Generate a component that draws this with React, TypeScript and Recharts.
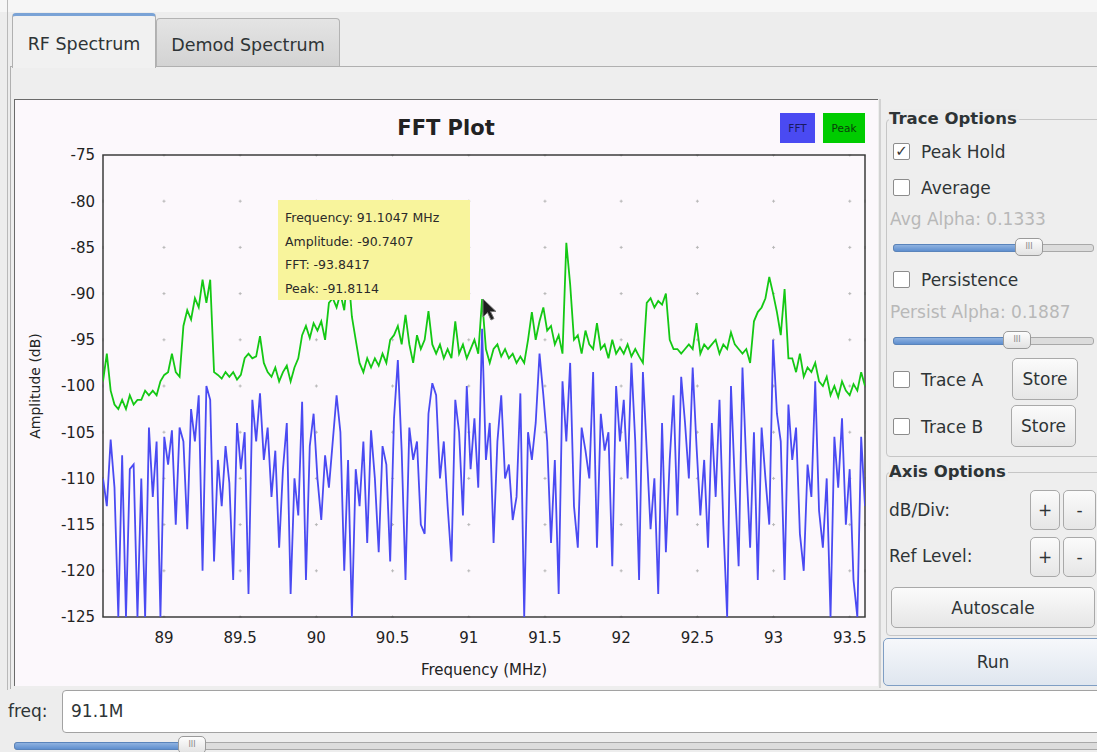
import { LineChart, Line, XAxis, YAxis, CartesianGrid, Tooltip, Legend, ReferenceArea } from 'recharts';

// receiver settings: 91.1 MHz centre, 5 MHz span
const START_MHZ = 88.6;
const SPAN_MHZ = 5.0;

// FFT trace (dB), one value per display bin
const fftDb = [
  -110, -113, -105.8, -111, -125, -107.5, -125, -109, -108.5, -125,
  -110, -125, -104.5, -112, -106, -125, -105.5, -108.5, -104.8, -115,
  -104.5, -106, -115.5, -102.5, -106, -101, -120, -100, -101.5, -119,
  -108, -113, -106.5, -110.5, -121, -104, -109, -105, -122.5, -101.5,
  -106, -100.8, -108, -104.5, -112, -107, -117.5, -109, -104, -122.5,
  -110, -114, -101.7, -121, -106.5, -103, -110, -114.5, -107.5, -111,
  -106, -101, -105, -120, -108, -125, -109, -113, -106, -117,
  -104.8, -110, -118, -106.5, -108.5, -119, -103.5, -97.2, -107, -121,
  -104.5, -108, -106, -115, -116, -103, -99.7, -101, -110, -106,
  -113, -119, -101.5, -105, -114, -100, -109, -103.5, -111, -93.8,
  -108, -104, -117, -106, -101, -110, -108.5, -114.5, -112, -100.8,
  -125, -105, -108, -104, -96.5, -101, -106, -117, -108, -122.5,
  -99.5, -106, -97.5, -113, -117.5, -104.5, -107, -110, -98.5, -117.5,
  -103, -107, -105, -119.5, -100, -106, -101.5, -110, -97.5, -106,
  -121, -98.5, -107, -115.5, -110, -122.5, -104, -118, -108, -101,
  -114, -99, -104, -110, -98, -106.5, -114, -108, -117.5, -104,
  -112, -101.5, -115, -125, -100, -110.5, -119.5, -98, -108.5, -117.5,
  -105, -121, -104.5, -110, -115, -95, -103, -106, -121, -102,
  -108, -104.5, -116, -120, -108.5, -112, -99.5, -113.5, -117.5, -110,
  -125, -105.5, -111, -103.5, -115, -109, -121, -125, -105.5, -113,
];

// peak hold trace (dB)
const peakDb = [
  -99.5, -96.5, -100.5, -102, -102.5, -101.5, -102.5, -101, -102, -101.5,
  -101.5, -100.5, -101, -100.5, -101, -99.5, -98.8, -98.5, -96.5, -98.5,
  -99, -93.5, -91.8, -92.8, -90.5, -91.5, -88.5, -91, -88.5, -98.5,
  -98.8, -99.2, -98.5, -99, -98.5, -99.3, -98.8, -97, -96.5, -97,
  -96.8, -94.6, -97.5, -98.5, -99, -98, -99.5, -98.5, -97.8, -99.5,
  -98, -97, -94.5, -93.5, -94.8, -93.2, -94, -93, -95, -91,
  -90.5, -91.5, -90, -91.8, -87.5, -92.5, -95, -97.5, -98.5, -97,
  -98, -97, -97.8, -96.5, -97.5, -95, -94.5, -93.5, -95.5, -92.3,
  -95.5, -97.5, -94.5, -96, -95, -91.9, -95.5, -96.5, -95.5, -97,
  -96, -97, -93, -96.5, -95.5, -97, -96, -95, -96.5, -90.6,
  -96, -97.5, -96, -95.5, -96.8, -96, -97, -96.5, -97.5, -96.8,
  -97.5, -95, -92, -95, -93, -91.5, -94, -93.5, -95.5, -94.5,
  -96.5, -84.5, -89, -95, -94.5, -96.5, -94, -95.5, -96, -93.2,
  -96, -95.5, -97, -95, -96.5, -95.8, -96.5, -95.5, -96.8, -96,
  -96.8, -97.5, -91, -90.5, -91.5, -90.8, -91.2, -90, -95, -96,
  -96, -96.5, -96, -95.5, -96, -93.2, -96.5, -95.5, -96, -95.5,
  -95, -96.5, -95.5, -96, -94.2, -95.5, -96, -96.5, -96, -97.5,
  -93, -92, -91.5, -90.5, -88.2, -90, -92, -94.5, -89.5, -97,
  -97, -98.5, -96.5, -99, -98, -98.5, -97.5, -99.5, -100, -99,
  -101, -100, -101.2, -99.5, -100.5, -101, -99.8, -100.5, -98.5, -100,
];

const xTicks = [89, 89.5, 90, 90.5, 91, 91.5, 92, 92.5, 93, 93.5];
const yTicks = [-125, -120, -115, -110, -105, -100, -95, -90, -85, -80, -75];

const readoutLines = ['Frequency: 91.1047 MHz', 'Amplitude: -90.7407', 'FFT: -93.8417', 'Peak: -91.8114'];
const READOUT_BIN = 99;

const data = fftDb.map((fft, i) => ({
  freq: START_MHZ + (i * SPAN_MHZ) / (fftDb.length - 1),
  fft,
  peak: peakDb[i],
}));

const FONT = '"DejaVu Sans", "Noto Sans", sans-serif';
const TEXT = '#2e3436';
const FFT_BLUE = '#4a4af2';
const PEAK_GREEN = '#14c814';

const Readout = () => (
  <div style={{ width: 192, height: 100, background: '#f8f49c', padding: '6px 0 0 7px', boxSizing: 'border-box', fontFamily: FONT, fontSize: 12.5, color: '#2a2a2a', lineHeight: '23.5px' }}>
    {readoutLines.map((l) => <div key={l}>{l}</div>)}
  </div>
);

const LegendBoxes = () => (
  <div style={{ display: 'flex', gap: 8, fontFamily: FONT, fontSize: 10.5 }}>
    <div style={{ width: 35, height: 30, background: FFT_BLUE, color: '#1a1a60', display: 'flex', alignItems: 'center', justifyContent: 'center' }}>FFT</div>
    <div style={{ width: 42, height: 30, background: '#00cc00', color: '#0a400a', display: 'flex', alignItems: 'center', justifyContent: 'center' }}>Peak</div>
  </div>
);

const YTitle = ({ viewBox }: any) => {
  const cx = viewBox.x + 12;
  const cy = viewBox.y + viewBox.height / 2;
  return (
    <text x={cx} y={cy} transform={`rotate(-90 ${cx} ${cy})`} textAnchor="middle" dominantBaseline="central" fontSize={14} fill="#222" fontFamily={FONT}>
      Amplitude (dB)
    </text>
  );
};

const Check = ({ x, y, on, label }: { x: number; y: number; on?: boolean; label: string }) => (
  <div style={{ position: 'absolute', left: x, top: y, display: 'flex', alignItems: 'center', height: 17 }}>
    <div style={{ width: 15, height: 15, border: '1px solid #8c8c8c', borderRadius: 2, background: '#fff', fontSize: 15, fontWeight: 'bold', lineHeight: '15px', textAlign: 'center', color: '#333' }}>{on ? '✓' : ''}</div>
    <span style={{ marginLeft: 11, fontSize: 17 }}>{label}</span>
  </div>
);

const Btn = ({ x, y, w, h, label, run }: { x: number; y: number; w: number; h: number; label: string; run?: boolean }) => (
  <div style={{
    position: 'absolute', left: x, top: y, width: w, height: h, boxSizing: 'border-box',
    border: run ? '1px solid #7f9ec4' : '1px solid #a9a9a9', borderRadius: 5,
    background: run ? 'linear-gradient(#f6f8fb, #dfe6ef)' : 'linear-gradient(#fbfbfb, #e6e6e6)',
    display: 'flex', alignItems: 'center', justifyContent: 'center', fontSize: 17,
  }}>{label}</div>
);

const Slider = ({ x, y, w, fill, knob }: { x: number; y: number; w: number; fill: number; knob: number }) => (
  <>
    <div style={{ position: 'absolute', left: x, top: y, width: w, height: 6, background: '#dcdcdc', border: '1px solid #a8a8a8', borderRadius: 3 }} />
    <div style={{ position: 'absolute', left: x, top: y, width: fill, height: 6, background: 'linear-gradient(#8fb2e0, #5f8fcf)', border: '1px solid #5a84bb', borderRadius: 3 }} />
    <div style={{ position: 'absolute', left: knob, top: y - 6, width: 28, height: 18, boxSizing: 'border-box', border: '1px solid #9a9a9a', borderRadius: 5, background: 'linear-gradient(#fdfdfd, #e2e2e2)', fontSize: 8, color: '#888', textAlign: 'center', lineHeight: '16px' }}>III</div>
  </>
);

const Group = ({ x, y, w, h, title }: { x: number; y: number; w: number; h: number; title: string }) => (
  <>
    <div style={{ position: 'absolute', left: x, top: y, width: w, height: h, border: '1px solid #c6c6c6', borderRadius: 4 }} />
    <div style={{ position: 'absolute', left: x + 3, top: y - 10, background: '#ededed', fontWeight: 'bold', fontSize: 16.5, paddingRight: 2 }}>{title}</div>
  </>
);

const FftPlot = () => (
  <LineChart width={864} height={587} data={data} margin={{ top: 56, right: 13, left: 9, bottom: 11 }}>
    <CartesianGrid stroke="#b8b8b8" strokeDasharray="3 73.2" strokeDashoffset={16.7} vertical={false} />
    <CartesianGrid stroke="#b8b8b8" strokeDasharray="3 43.2" strokeDashoffset={1.5} horizontal={false} />
    <XAxis
      dataKey="freq"
      type="number"
      domain={[START_MHZ, START_MHZ + SPAN_MHZ]}
      ticks={xTicks}
      allowDataOverflow
      height={58}
      axisLine={false}
      tickLine={false}
      tickMargin={9}
      tick={{ fontSize: 15, fill: '#222', fontFamily: FONT }}
      label={{ value: 'Frequency (MHz)', position: 'insideBottom', offset: 0, fontSize: 15, fill: '#222', fontFamily: FONT }}
    />
    <YAxis
      type="number"
      domain={[-125, -75]}
      ticks={yTicks}
      allowDataOverflow
      width={80}
      axisLine={false}
      tickLine={false}
      tick={{ fontSize: 15, fill: '#222', fontFamily: FONT }}
      label={<YTitle />}
    />
    <Line type="linear" dataKey="peak" stroke={PEAK_GREEN} strokeWidth={1.8} dot={false} activeDot={false} isAnimationActive={false} />
    <Line type="linear" dataKey="fft" stroke={FFT_BLUE} strokeWidth={1.8} dot={false} activeDot={false} isAnimationActive={false} />
    <ReferenceArea x1={START_MHZ} x2={START_MHZ + SPAN_MHZ} y1={-125} y2={-75} fill="none" stroke="#3c3c3c" strokeWidth={1.5} />
    <Legend layout="horizontal" verticalAlign="middle" align="center" content={<LegendBoxes />} wrapperStyle={{ top: 14, left: 766, width: 86, height: 30 }} />
    <Tooltip active defaultIndex={READOUT_BIN} cursor={false} position={{ x: 264, y: 101 }} content={<Readout />} isAnimationActive={false} wrapperStyle={{ outline: 'none' }} />
  </LineChart>
);

export default function App() {
  return (
    <div style={{ position: 'absolute', left: 0, top: 0, width: 1097, height: 752, background: '#ededed', overflow: 'hidden', fontFamily: FONT, color: TEXT }}>
      {/* window edge */}
      <div style={{ position: 'absolute', left: 0, top: 0, width: 1097, height: 12, background: '#f6f6f6' }} />
      <div style={{ position: 'absolute', left: 7, top: 0, width: 1, height: 690, background: '#b9b9b9' }} />

      {/* notebook tabs */}
      <div style={{ position: 'absolute', left: 10, top: 66, width: 1090, height: 622, borderTop: '1px solid #b0b0b0', borderLeft: '1px solid #b0b0b0', background: '#eeeeee' }} />
      <div style={{ position: 'absolute', left: 156, top: 18, width: 184, height: 48, boxSizing: 'border-box', border: '1px solid #b3b3b3', borderBottom: 'none', borderRadius: '4px 4px 0 0', background: 'linear-gradient(#e4e4e4, #d3d3d3)', fontSize: 17.5, display: 'flex', alignItems: 'center', justifyContent: 'center', paddingTop: 4 }}>Demod Spectrum</div>
      <div style={{ position: 'absolute', left: 12, top: 13, width: 144, height: 55, boxSizing: 'border-box', border: '1px solid #b0b0b0', borderTop: '3px solid #7aa3d6', borderBottom: 'none', borderRadius: '4px 4px 0 0', background: '#f1f1f1', fontSize: 17.5, display: 'flex', alignItems: 'center', justifyContent: 'center', paddingTop: 4 }}>RF Spectrum</div>

      {/* plot widget */}
      <div style={{ position: 'absolute', left: 14, top: 99, width: 864, height: 587, boxSizing: 'border-box', background: '#fcf8fc', borderTop: '1px solid #6a6a6a', borderLeft: '1px solid #6a6a6a' }} />
      <div style={{ position: 'absolute', left: 14, top: 116, width: 864, textAlign: 'center', fontWeight: 'bold', fontSize: 21, color: '#222' }}>FFT Plot</div>
      <div style={{ position: 'absolute', left: 14, top: 99 }}>
        <FftPlot />
      </div>
      <svg style={{ position: 'absolute', left: 482, top: 298 }} width={20} height={26}>
        <path d="M1 1 L1 19 L5.5 14.5 L9 22 L12 20.5 L8.5 13.5 L14 13.5 Z" fill="#1e1e1e" stroke="#777" strokeWidth={1} />
      </svg>

      {/* side panel */}
      <div style={{ position: 'absolute', left: 879, top: 99, width: 2, height: 589, background: '#d2d2d2' }} />
      <Group x={886} y={119} w={220} h={336} title="Trace Options" />
      <Check x={893} y={143} on label="Peak Hold" />
      <Check x={893} y={179} label="Average" />
      <div style={{ position: 'absolute', left: 890, top: 209, fontSize: 17, color: '#b8b8b8' }}>Avg Alpha: 0.1333</div>
      <Slider x={893} y={244} w={199} fill={127} knob={1015} />
      <Check x={893} y={271} label="Persistence" />
      <div style={{ position: 'absolute', left: 890, top: 302, fontSize: 17, color: '#b8b8b8' }}>Persist Alpha: 0.1887</div>
      <Slider x={893} y={337} w={199} fill={112} knob={1003} />
      <Check x={893} y={371} label="Trace A" />
      <Btn x={1012} y={358} w={66} h={42} label="Store" />
      <Check x={893} y={418} label="Trace B" />
      <Btn x={1011} y={405} w={65} h={42} label="Store" />

      <Group x={886} y={472} w={220} h={162} title="Axis Options" />
      <div style={{ position: 'absolute', left: 889, top: 500, fontSize: 17 }}>dB/Div:</div>
      <Btn x={1030} y={490} w={30} h={40} label="+" />
      <Btn x={1063} y={490} w={33} h={40} label="-" />
      <div style={{ position: 'absolute', left: 889, top: 546, fontSize: 17 }}>Ref Level:</div>
      <Btn x={1030} y={537} w={30} h={40} label="+" />
      <Btn x={1063} y={537} w={33} h={40} label="-" />
      <Btn x={891} y={587} w={204} h={41} label="Autoscale" />
      <Btn x={883} y={638} w={220} h={48} label="Run" run />

      {/* frequency entry */}
      <div style={{ position: 'absolute', left: 8, top: 701, fontSize: 17 }}>freq:</div>
      <div style={{ position: 'absolute', left: 62, top: 690, width: 1045, height: 43, boxSizing: 'border-box', background: '#fff', border: '1px solid #a2a2a2', borderRadius: 4, fontSize: 17, paddingLeft: 8, lineHeight: '41px' }}>91.1M</div>
      <Slider x={14} y={742} w={1090} fill={166} knob={178} />
    </div>
  );
}
